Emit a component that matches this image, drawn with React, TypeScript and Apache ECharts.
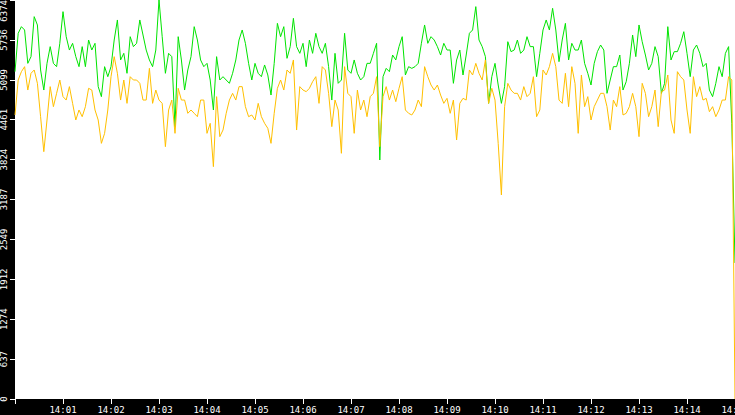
import React, { useEffect, useRef } from "react";
import * as echarts from "echarts";

const startHour = 14;
const stepMs = 4000;
const spanMs = 15 * 60 * 1000;
const yMax = 6374;
const yTickCount = 10;

const greenValues = [
  5229, 5842, 5948, 5895, 5362, 5469, 6108, 5975, 5256, 4936,
  5362, 5629, 5362, 5309, 5682, 6188, 5788, 5575, 5682, 5469,
  5309, 5629, 5309, 5735, 5575, 5682, 4990, 4830, 5309, 5149,
  5309, 5735, 6055, 5416, 5522, 5203, 5788, 5629,
  5682, 6055, 5815, 5575, 5416, 5309, 5575, 6374, 5788, 5203,
  5522, 5469, 4351, 5788, 5416, 4936, 5256, 5469, 5948, 5735,
  5416, 5309, 5362, 5096, 4617, 5469, 5096, 5149, 5096, 5043,
  5203, 5416, 5735, 5895, 5682, 5362, 5096,
  5362, 5203, 5149, 5336, 5176, 4856, 5362, 6001, 5788, 5948,
  5442, 5629, 6081, 5629, 5522, 5682, 5309, 5735, 5522, 5842,
  5629, 5522, 5682, 5309, 4776, 5522, 5043, 5096, 5842, 5256,
  5203, 5416, 5203, 5096, 5149, 5362, 5362, 5522,
  5682, 3818, 5149, 5282, 5229, 5495, 5416, 5629, 5788, 5176,
  5309, 5282, 5309, 5362, 5682, 5975, 5682, 5788, 5735, 5629,
  5495, 5682, 5575, 5575, 5043, 5416, 5575, 5176, 5495, 5842,
  5895, 6268, 5735, 5629, 5469, 4723, 5149,
  5362, 5016, 4723, 4990, 5708, 5549, 5575, 5735, 5522, 5575,
  5788, 5629, 5629, 5149, 5522, 5895, 6055, 5895, 6241, 5895,
  5389, 5735, 6001, 5416, 5682, 5575, 5575, 5735, 5362, 5203,
  5016, 5362, 5549, 5655, 5575, 4883, 5096, 5309,
  5309, 5495, 4936, 5069, 5362, 5815, 5469, 5975, 5708, 5495,
  5256, 5362, 5629, 5469, 4883, 5043, 5948, 5416, 5549, 5549,
  5682, 5868, 5522, 5149, 5575, 5655, 5522, 5309, 5362, 4936,
  4830, 5043, 5309, 5149, 5522, 5629, 4404, 2173,
];

const orangeValues = [
  4537, 5096, 5229, 5309, 4936, 5203, 5256, 5043, 4510, 3951,
  4457, 4990, 4670, 4883, 5096, 4830, 4776, 4990, 4723, 4457,
  4617, 4510, 4670, 4963, 4936, 4617, 4457, 4084, 4244, 4617,
  5149, 5469, 5203, 4776, 5096, 4723, 5149, 5096,
  5096, 5043, 4776, 4776, 5282, 4723, 4936, 4776, 4723, 4031,
  4617, 4776, 4244, 4963, 4776, 4776, 4564, 4617, 4564, 4510,
  4776, 4776, 4244, 4404, 3712, 4830, 4191, 4297, 4564, 4776,
  4883, 4776, 4990, 4990, 4670, 4510, 4537,
  4457, 4723, 4510, 4404, 4324, 4084, 4564, 4963, 5096, 4936,
  5256, 5203, 5416, 4297, 4990, 4936, 4910, 4963, 5069, 5149,
  4723, 5309, 5256, 4883, 4351, 4776, 4617, 3925, 5309, 4883,
  4830, 4244, 4936, 4617, 4776, 4510, 4830, 4883,
  5149, 4031, 4830, 4990, 4776, 4936, 4750, 4963, 5149, 4617,
  4564, 4537, 4617, 4776, 4670, 5309, 5149, 5016, 4936, 5016,
  4856, 4723, 4803, 4564, 4776, 4138, 4723, 4803, 4776, 5256,
  5176, 5362, 5203, 5096, 5416, 4723, 4963,
  4776, 4084, 3260, 4670, 5043, 4936, 4883, 4883, 4776, 4990,
  4830, 4883, 5149, 4510, 4617, 5256, 5176, 5309, 5522, 5309,
  4776, 4723, 5203, 4670, 5309, 5043, 4244, 5176, 4670, 4830,
  4457, 4670, 4776, 4883, 4883, 4670, 4297, 4776,
  4670, 4990, 4537, 4564, 4670, 4883, 4670, 4191, 5043, 4883,
  4510, 4670, 4936, 4351, 4910, 4936, 5176, 4457, 4244, 5229,
  5149, 5096, 4617, 4244, 5149, 4830, 4990, 4776, 4803, 4590,
  4670, 4510, 4617, 4776, 4776, 5149, 5096, 0,
];

const pad = (n: number) => (n < 10 ? "0" + n : "" + n);

export default function App() {
  const ref = useRef<HTMLDivElement>(null);

  useEffect(() => {
    if (!ref.current) return;
    const chart = echarts.init(ref.current, undefined, { renderer: "svg" });
    const base = new Date(2024, 0, 1, startHour, 0, 0).getTime();
    const toPairs = (arr: number[]) => arr.map((v, i) => [base + i * stepMs, v]);
    const font = "DejaVu Sans Mono";

    chart.setOption({
      animation: false,
      backgroundColor: "#000000",
      grid: {
        left: 15,
        right: 0,
        top: 0,
        bottom: 16,
        show: true,
        backgroundColor: "#ffffff",
        borderWidth: 0,
        containLabel: false,
        outerBoundsMode: "none",
      },
      xAxis: {
        type: "time",
        min: base,
        max: base + spanMs,
        minInterval: 60000,
        maxInterval: 60000,
        axisLine: { show: false },
        axisTick: { show: true, length: 5, lineStyle: { color: "#ffffff", width: 1 } },
        splitLine: { show: false },
        axisLabel: {
          color: "#ffffff",
          fontFamily: font,
          fontSize: 9,
          margin: 6,
          showMinLabel: false,
          showMaxLabel: true,
          hideOverlap: false,
          formatter: (v: number) => {
            if (v <= base) return "";
            const d = new Date(v);
            return pad(d.getHours()) + ":" + pad(d.getMinutes());
          },
        },
      },
      yAxis: {
        type: "value",
        min: 0,
        max: yMax,
        interval: yMax / yTickCount,
        axisLine: { show: false },
        axisTick: { show: true, length: 5, lineStyle: { color: "#ffffff", width: 1 } },
        splitLine: { show: false },
        axisLabel: {
          color: "#ffffff",
          fontFamily: font,
          fontSize: 9,
          rotate: 90,
          margin: 7,
          alignMaxLabel: "right",
          formatter: (v: number) => String(Math.floor(v + 1e-6)),
        },
      },
      series: [
        {
          type: "line",
          data: toPairs(greenValues),
          showSymbol: false,
          symbol: "none",
          lineStyle: { color: "#00e400", width: 1 },
          itemStyle: { color: "#00e400" },
        },
        {
          type: "line",
          data: toPairs(orangeValues),
          showSymbol: false,
          symbol: "none",
          lineStyle: { color: "#ffc000", width: 1 },
          itemStyle: { color: "#ffc000" },
        },
      ],
    });

    return () => chart.dispose();
  }, []);

  return (
    <div
      ref={ref}
      style={{ position: "fixed", left: 0, top: 0, width: 735, height: 415, background: "#000" }}
    />
  );
}
